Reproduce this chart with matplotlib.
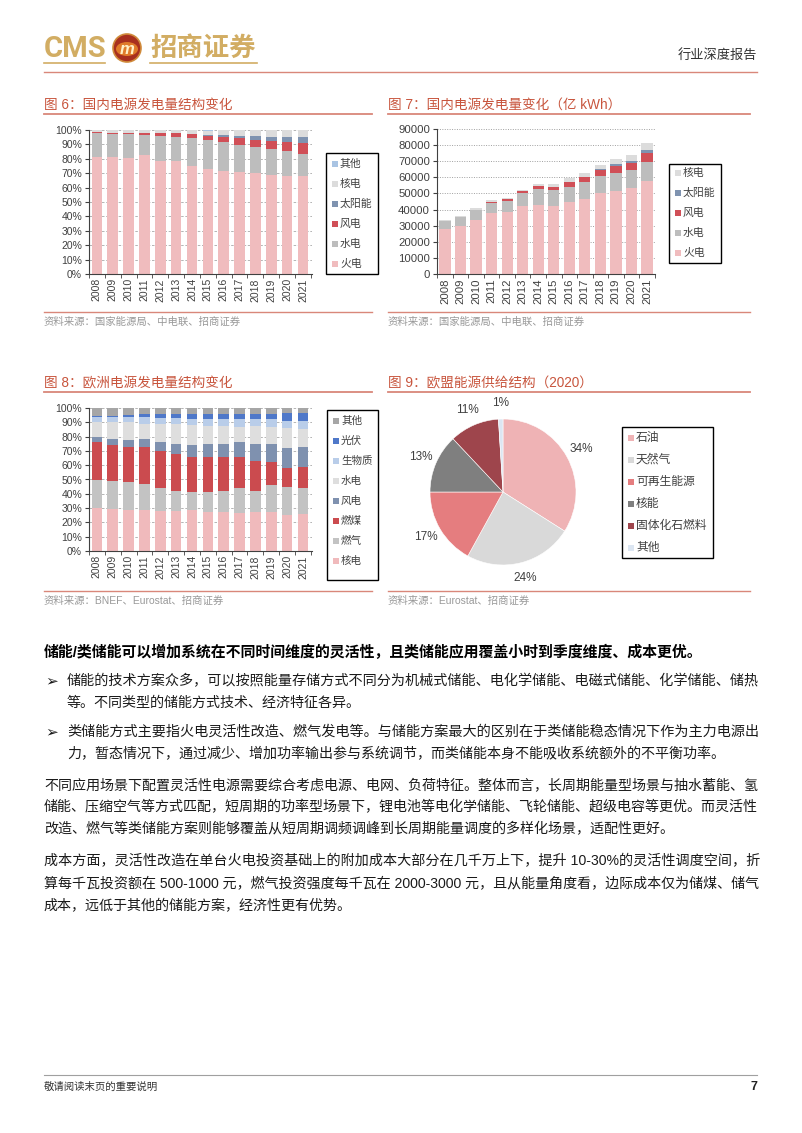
import matplotlib
matplotlib.use('Agg')
import matplotlib.pyplot as plt
from matplotlib.patches import Rectangle, Circle, Ellipse
import numpy as np

plt.rcParams['font.family'] = ['Liberation Sans', 'Noto Sans CJK SC', 'DejaVu Sans']
plt.rcParams['axes.unicode_minus'] = False

W, H = 802, 1133

# ---------------- data ----------------
years = [str(y) for y in range(2008, 2022)]

# Fig 6: China generation structure (%)
cn_share_labels = ['火电', '水电', '风电', '太阳能', '核电', '其他']
cn_share_thermal = [81.5, 81.5, 80.8, 82.5, 78.5, 78.5, 75.2, 73.2, 71.8, 71.0, 70.4, 68.9, 67.9, 67.9]
cn_share_hydro = [16.4, 16.0, 16.2, 14.0, 17.3, 16.7, 18.9, 19.6, 19.6, 18.6, 17.6, 17.8, 17.8, 15.6]
cn_share_wind = [0.4, 0.7, 1.2, 1.6, 2.0, 2.6, 2.8, 3.2, 4.0, 4.7, 5.2, 5.5, 6.1, 7.4]
cn_share_solar = [0.0, 0.0, 0.0, 0.1, 0.1, 0.2, 0.4, 0.7, 1.1, 1.8, 2.5, 3.1, 3.4, 3.9]
cn_share_nuclear = [1.7, 1.8, 1.8, 1.8, 2.0, 2.0, 2.4, 2.9, 3.5, 3.9, 4.2, 4.6, 4.7, 4.9]
cn_share_other = [0.0, 0.0, 0.0, 0.0, 0.1, 0.0, 0.3, 0.4, 0.0, 0.0, 0.1, 0.1, 0.1, 0.3]

# Fig 7: China generation (亿kWh)
cn_gen_labels = ['火电', '水电', '风电', '太阳能', '核电']
cn_gen_thermal = [28000, 29800, 33500, 38000, 38500, 42300, 43000, 42000, 44400, 46500, 50000, 51500, 53200, 57500]
cn_gen_hydro = [4900, 5400, 6000, 6200, 7000, 8000, 10000, 10000, 9800, 10400, 10800, 11500, 11400, 12000]
cn_gen_wind = [100, 200, 500, 600, 800, 1000, 1500, 2000, 2800, 3300, 3700, 4200, 4500, 5500]
cn_gen_solar = [0, 0, 0, 0, 0, 0, 0, 0, 200, 300, 500, 900, 1200, 2000]
cn_gen_nuclear = [680, 700, 740, 870, 980, 1110, 1330, 1710, 2130, 2480, 2940, 3490, 3660, 4070]

# Fig 8: Europe generation structure (%)
eu_share_labels = ['核电', '燃气', '燃煤', '风电', '水电', '生物质', '光伏', '其他']
eu_nuclear = [30.0, 29.5, 29.0, 29.0, 28.0, 28.0, 28.5, 27.5, 27.0, 26.5, 27.0, 27.5, 25.5, 26.0]
eu_gas = [20.0, 19.5, 19.0, 18.0, 16.0, 14.0, 12.5, 13.5, 15.0, 17.5, 15.0, 18.5, 19.0, 18.0]
eu_coal = [26.0, 25.0, 24.5, 25.5, 26.0, 25.5, 25.0, 25.0, 24.0, 22.0, 21.0, 16.0, 13.5, 15.0]
eu_wind = [4.0, 4.5, 5.0, 5.5, 6.5, 7.5, 8.0, 9.0, 9.0, 10.5, 11.5, 13.0, 14.0, 14.0]
eu_hydro = [10.0, 11.5, 12.5, 11.0, 12.0, 13.5, 14.0, 12.5, 12.5, 10.5, 13.0, 11.5, 14.0, 12.0]
eu_bio = [4.0, 4.0, 4.0, 4.5, 4.5, 4.5, 4.5, 5.0, 5.0, 5.0, 5.0, 5.5, 5.0, 6.0]
eu_pv = [0.5, 0.7, 1.0, 2.5, 2.5, 3.0, 3.5, 3.5, 3.5, 4.0, 3.5, 4.0, 5.5, 5.5]
eu_other = [5.5, 5.3, 5.0, 4.0, 4.5, 4.0, 4.0, 4.0, 4.0, 4.0, 4.0, 4.0, 3.5, 3.5]

# Fig 9: EU energy supply 2020 (%)
pie_labels = ['石油', '天然气', '可再生能源', '核能', '固体化石燃料', '其他']
pie_values = [34, 24, 17, 13, 11, 1]

# ---------------- colours ----------------
c_pink = '#f0bcbe'
c_gray = '#bdbdbd'
c_red = '#d04f57'
c_steel = '#7f93b0'
c_lgray = '#dcdcdc'
c_lblue = '#a9c4e3'
cn_colors = [c_pink, c_gray, c_red, c_steel, c_lgray, c_lblue]
eu_colors = ['#f0babc', '#c3c3c3', '#cb4b4f', '#7f91af', '#dedede', '#b9cde9', '#4f78c9', '#a6a6a6']
pie_colors = ['#efb3b5', '#d9d9d9', '#e57d7f', '#7f7f7f', '#9e454c', '#dce6f2']

title_color = '#c8553d'
rule_color = '#d9877a'
src_color = '#999999'
tick_color = '#404040'

fig = plt.figure(figsize=(W / 100, H / 100), dpi=100)

ov = fig.add_axes([0, 0, 1, 1])
ov.set_xlim(0, W)
ov.set_ylim(H, 0)
ov.axis('off')


def px_axes(l, t, r, b):
    return fig.add_axes([l / W, 1 - b / H, (r - l) / W, (b - t) / H])


def stacked(ax, series, colors, width):
    x = np.arange(len(years))
    bottom = np.zeros(len(years))
    for vals, c in zip(series, colors):
        v = np.array(vals, dtype=float)
        ax.bar(x, v, width, bottom=bottom, color=c, linewidth=0, zorder=2)
        bottom += v


def style(ax, ymax, yticks, ylabels, xpad, fs=7.5):
    x = np.arange(len(years))
    ax.set_xlim(-0.5 + xpad[0], len(years) - 0.5 + xpad[1])
    ax.set_ylim(0, ymax)
    ax.set_yticks(yticks)
    ax.set_yticklabels(ylabels)
    ax.set_xticks(x)
    ax.set_xticklabels(years, rotation=90)
    ax.set_xticks(np.arange(-0.5, len(years), 1), minor=True)
    ax.tick_params(axis='x', which='major', length=0, pad=3, labelsize=fs, labelcolor=tick_color)
    ax.tick_params(axis='x', which='minor', length=3, direction='out', color=tick_color)
    ax.tick_params(axis='y', length=3, direction='out', pad=2, labelsize=fs, labelcolor=tick_color, color=tick_color)
    for s in ['top', 'right']:
        ax.spines[s].set_visible(False)
    for s in ['left', 'bottom']:
        ax.spines[s].set_color(tick_color)
        ax.spines[s].set_linewidth(0.8)
    ax.yaxis.grid(True, linestyle=(0, (3, 2)), color='#a8a8a8', linewidth=0.6)
    ax.set_axisbelow(True)


def legend_box(l, t, r, b, labels, colors, y0, step, fs):
    ov.add_patch(Rectangle((l, t), r - l, b - t, fill=False, edgecolor='black', linewidth=1.0))
    for i, (lab, c) in enumerate(zip(labels, colors)):
        y = y0 + i * step
        ov.add_patch(Rectangle((l + 6, y - 3), 6, 6, facecolor=c, edgecolor='none'))
        ov.text(l + 14, y, lab, va='center', ha='left', fontsize=fs, color=tick_color)


# ---------------- header ----------------
gold = '#d2ad63'
ov.text(44, 49, 'CMS', fontsize=21, color=gold, fontweight='bold', va='center', ha='left',
        family=['Roboto', 'DejaVu Sans'])
ov.plot([44, 105], [62.5, 62.5], color=gold, lw=1.2)
ov.add_patch(Circle((127, 48), 14, facecolor='#a8301f', edgecolor='#d08a3a', lw=1.2))
ov.add_patch(Ellipse((127, 49), 22, 14, facecolor='#e07b2a', edgecolor='none'))
ov.text(127, 49, 'm', fontsize=12, color='#fff1c8', fontweight='bold', style='italic', ha='center', va='center')
ov.text(150, 48, '招商证券', fontsize=19, color=gold, fontweight='bold', va='center', ha='left',
        family=['Noto Sans CJK SC'])
ov.plot([150, 257], [62.5, 62.5], color=gold, lw=1.2)
ov.text(757, 55, '行业深度报告', fontsize=9.5, color='#333333', ha='right', va='center')
ov.plot([44, 757], [72, 72], color=rule_color, lw=1.0)

# ---------------- titles / rules ----------------
ov.text(44, 105, '图 6：国内电源发电量结构变化', fontsize=9.8, color=title_color, va='center')
ov.text(388, 105, '图 7：国内电源发电量变化（亿 kWh）', fontsize=9.8, color=title_color, va='center')
ov.plot([44, 372], [114, 114], color=rule_color, lw=1.3)
ov.plot([388, 750], [114, 114], color=rule_color, lw=1.3)
ov.plot([44, 372], [312, 312], color=rule_color, lw=1.0)
ov.plot([388, 750], [312, 312], color=rule_color, lw=1.0)
ov.text(44, 322, '资料来源：国家能源局、中电联、招商证券', fontsize=7.5, color=src_color, va='center')
ov.text(388, 322, '资料来源：国家能源局、中电联、招商证券', fontsize=7.5, color=src_color, va='center')

ov.text(44, 383, '图 8：欧洲电源发电量结构变化', fontsize=9.8, color=title_color, va='center')
ov.text(388, 383, '图 9：欧盟能源供给结构（2020）', fontsize=9.8, color=title_color, va='center')
ov.plot([44, 372], [392, 392], color=rule_color, lw=1.3)
ov.plot([388, 750], [392, 392], color=rule_color, lw=1.3)
ov.plot([44, 372], [591, 591], color=rule_color, lw=1.0)
ov.plot([388, 750], [591, 591], color=rule_color, lw=1.0)
ov.text(44, 601, '资料来源：BNEF、Eurostat、招商证券', fontsize=7.5, color=src_color, va='center')
ov.text(388, 601, '资料来源：Eurostat、招商证券', fontsize=7.5, color=src_color, va='center')

# ---------------- Fig 6 ----------------
ax6 = px_axes(89, 130, 312, 274)
stacked(ax6, [cn_share_thermal, cn_share_hydro, cn_share_wind, cn_share_solar, cn_share_nuclear, cn_share_other],
        cn_colors, 0.67)
pct_ticks = list(range(0, 101, 10))
style(ax6, 100, pct_ticks, [f'{v}%' for v in pct_ticks], (0.05, 0.07))
legend_box(326, 153, 378, 274, cn_share_labels[::-1], cn_colors[::-1], 164, 20, 7.8)

# ---------------- Fig 7 ----------------
ax7 = px_axes(437, 129, 655, 274)
stacked(ax7, [cn_gen_thermal, cn_gen_hydro, cn_gen_wind, cn_gen_solar, cn_gen_nuclear], cn_colors[:5], 0.73)
gen_ticks = list(range(0, 90001, 10000))
style(ax7, 90000, gen_ticks, [str(v) for v in gen_ticks], (-0.02, 0.02), fs=8.2)
ax7.yaxis.grid(True, linestyle=(0, (1, 1.5)), color='#a0a0a0', linewidth=0.7)
legend_box(669, 164, 721, 263, cn_gen_labels[::-1], cn_colors[:5][::-1], 173, 20, 7.8)

# ---------------- Fig 8 ----------------
ax8 = px_axes(89, 408, 312, 551)
stacked(ax8, [eu_nuclear, eu_gas, eu_coal, eu_wind, eu_hydro, eu_bio, eu_pv, eu_other], eu_colors, 0.67)
style(ax8, 100, pct_ticks, [f'{v}%' for v in pct_ticks], (0.05, 0.07))
legend_box(327, 410, 378, 580, eu_share_labels[::-1], eu_colors[::-1], 421, 20, 7.6)

# ---------------- Fig 9 ----------------
r = 73
ax9 = px_axes(503 - r, 492 - r, 503 + r, 492 + r)
ax9.pie(pie_values, colors=pie_colors, startangle=90, counterclock=False,
        autopct=lambda p: f'{p:.0f}%', pctdistance=1.22,
        wedgeprops=dict(edgecolor='white', linewidth=0.4),
        textprops=dict(fontsize=8.5, color=tick_color))
ax9.set_xlim(-1, 1)
ax9.set_ylim(-1, 1)
ax9.set_aspect('equal')
legend_box(622, 427, 713, 558, pie_labels, pie_colors, 438, 22, 8.5)

# ---------------- body text ----------------
body_fs = 10.1
txt_color = '#1a1a1a'
RIGHT = 757
full_lines = []
bold_t = ov.text(44, 652, '储能/类储能可以增加系统在不同时间维度的灵活性，且类储能应用覆盖小时到季度维度、成本更优。',
                 fontsize=10.75, fontweight='bold', color='black', va='center')
bullet_lines = [
    (681, True, True, '储能的技术方案众多，可以按照能量存储方式不同分为机械式储能、电化学储能、电磁式储能、化学储能、储热'),
    (703, False, False, '等。不同类型的储能方式技术、经济特征各异。'),
    (732, True, True, '类储能方式主要指火电灵活性改造、燃气发电等。与储能方案最大的区别在于类储能稳态情况下作为主力电源出'),
    (754, False, False, '力，暂态情况下，通过减少、增加功率输出参与系统调节，而类储能本身不能吸收系统额外的不平衡功率。'),
]
for y, has_bullet, full, s in bullet_lines:
    if has_bullet:
        ov.text(45, y, '➢', fontsize=11, color=txt_color, va='center', family=['DejaVu Sans'])
    t = ov.text(67, y, s, fontsize=body_fs, color=txt_color, va='center')
    if full:
        full_lines.append((t, RIGHT - 67))

para_lines = [
    (785, True, '不同应用场景下配置灵活性电源需要综合考虑电源、电网、负荷特征。整体而言，长周期能量型场景与抽水蓄能、氢'),
    (807, True, '储能、压缩空气等方式匹配，短周期的功率型场景下，锂电池等电化学储能、飞轮储能、超级电容等更优。而灵活性'),
    (829, False, '改造、燃气等类储能方案则能够覆盖从短周期调频调峰到长周期能量调度的多样化场景，适配性更好。'),
    (861, True, '成本方面，灵活性改造在单台火电投资基础上的附加成本大部分在几千万上下，提升 10-30%的灵活性调度空间，折'),
    (883, True, '算每千瓦投资额在 500-1000 元，燃气投资强度每千瓦在 2000-3000 元，且从能量角度看，边际成本仅为储煤、储气'),
    (906, False, '成本，远低于其他的储能方案，经济性更有优势。'),
]
for y, full, s in para_lines:
    t = ov.text(44, y, s, fontsize=body_fs, color=txt_color, va='center')
    if full:
        full_lines.append((t, RIGHT - 44))

# fit justified lines to the text block width
fig.canvas.draw()
renderer = fig.canvas.get_renderer()
for t, target in full_lines:
    w = t.get_window_extent(renderer).width
    t.set_fontsize(t.get_fontsize() * target / w)

# ---------------- footer ----------------
ov.plot([44, 757], [1075, 1075], color='#a0a0a0', lw=0.8)
ov.text(44, 1087, '敬请阅读末页的重要说明', fontsize=7.5, color='#333333', va='center')
ov.text(757, 1087, '7', fontsize=9, fontweight='bold', color='#222222', va='center', ha='right')

fig.savefig('out.png', dpi=100)
